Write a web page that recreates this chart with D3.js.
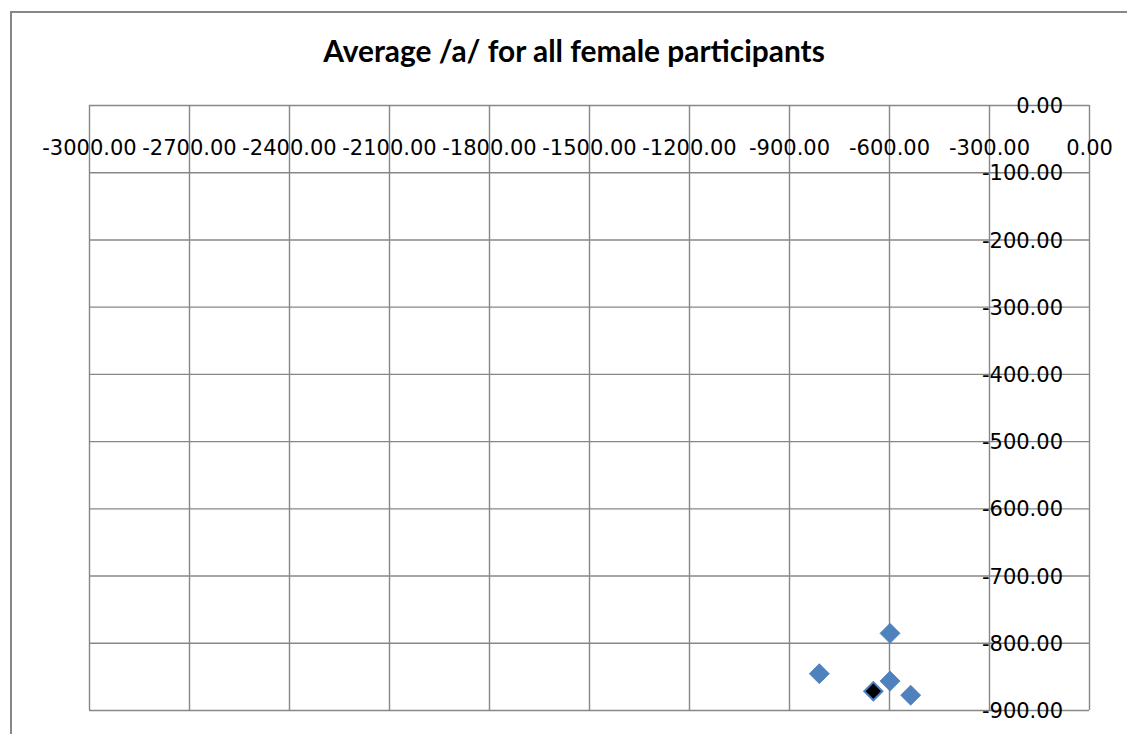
<!DOCTYPE html>
<html>
<head>
<meta charset="utf-8">
<script src="https://cdn.jsdelivr.net/npm/d3@7"></script>
<style>
  html, body { margin: 0; padding: 0; background: #fff; }
  svg { display: block; }
</style>
</head>
<body>
<svg id="chart" width="1127" height="734"></svg>
<script>
// Formant readings (negated F2 on x, negated F1 on y)
const participantX = [-597, -809, -597, -535];
const participantY = [-786, -846, -857, -878];
const averageX = [-647];
const averageY = [-872];

const xTickValues = [-3000, -2700, -2400, -2100, -1800, -1500, -1200, -900, -600, -300, 0];
const yTickValues = [0, -100, -200, -300, -400, -500, -600, -700, -800, -900];

const titleText = "Average /a/ for all female participants";

const svg = d3.select("#chart");
const W = 1127, H = 734;
const plot = { left: 89, right: 1089, top: 105, bottom: 710 };
const gridColor = "#878787";

svg.append("rect").attr("width", W).attr("height", H).attr("fill", "#fff");

// outer chart border
svg.append("rect")
  .attr("x", 11).attr("y", 12)
  .attr("width", W).attr("height", H)
  .attr("fill", "none")
  .attr("stroke", gridColor)
  .attr("stroke-width", 2);

const x = d3.scaleLinear().domain([-3000, 0]).range([plot.left, plot.right]);
const y = d3.scaleLinear().domain([-900, 0]).range([plot.bottom, plot.top]);

// vertical gridlines
svg.append("g")
  .attr("transform", `translate(0,${plot.top})`)
  .call(d3.axisBottom(x).tickValues(xTickValues).tickSize(plot.bottom - plot.top).tickFormat(""))
  .call(g => g.select(".domain").remove())
  .call(g => g.selectAll("line").attr("stroke", gridColor).attr("stroke-width", 1.4));

// horizontal gridlines
svg.append("g")
  .attr("transform", `translate(${plot.left},0)`)
  .call(d3.axisRight(y).tickValues(yTickValues).tickSize(plot.right - plot.left).tickFormat(""))
  .call(g => g.select(".domain").remove())
  .call(g => g.selectAll("line").attr("stroke", gridColor).attr("stroke-width", 1.4));

// plain hyphen-minus, two decimals
const fmt = d => d.toFixed(2);
const labelFont = "'DejaVu Sans', sans-serif";
const labelSize = 21;

// x-axis labels sit just below the top (y = 0) axis
svg.append("g")
  .attr("transform", `translate(0,147)`)
  .call(d3.axisTop(x).tickValues(xTickValues).tickSize(0).tickPadding(0).tickFormat(fmt))
  .call(g => g.select(".domain").remove())
  .call(g => g.selectAll("text")
    .attr("fill", "#000")
    .attr("dy", "0.36em")
    .style("font-family", labelFont)
    .style("font-size", labelSize + "px"));

// y-axis labels sit left of the right-hand (x = 0) axis
svg.append("g")
  .attr("transform", `translate(1063,0)`)
  .call(d3.axisLeft(y).tickValues(yTickValues).tickSize(0).tickPadding(0).tickFormat(fmt))
  .call(g => g.select(".domain").remove())
  .call(g => g.selectAll("text")
    .attr("fill", "#000")
    .attr("dy", "0.36em")
    .style("font-family", labelFont)
    .style("font-size", labelSize + "px"));

// title
const title = svg.append("text")
  .attr("x", 574).attr("y", 62)
  .attr("text-anchor", "middle")
  .style("font-family", "Lato, 'Open Sans', sans-serif")
  .style("font-weight", "bold")
  .style("font-size", "26px")
  .attr("fill", "#000")
  .text(titleText);
const tw = title.node().getComputedTextLength();
title.style("font-size", (26 * 502 / tw).toFixed(2) + "px");

// markers
const diamond = (size) => d3.symbol().type(d3.symbolSquare).size(size)();

svg.append("g")
  .selectAll("path")
  .data(d3.zip(participantX, participantY))
  .join("path")
  .attr("d", diamond(200))
  .attr("transform", d => `translate(${x(d[0])},${y(d[1])}) rotate(45)`)
  .attr("fill", "#4f81bd")
  .attr("stroke", "#4a7ebb")
  .attr("stroke-width", 0.75);

svg.append("g")
  .selectAll("path")
  .data(d3.zip(averageX, averageY))
  .join("path")
  .attr("d", diamond(165))
  .attr("transform", d => `translate(${x(d[0])},${y(d[1])}) rotate(45)`)
  .attr("fill", "#000")
  .attr("stroke", "#4f81bd")
  .attr("stroke-width", 2);
</script>
</body>
</html>
